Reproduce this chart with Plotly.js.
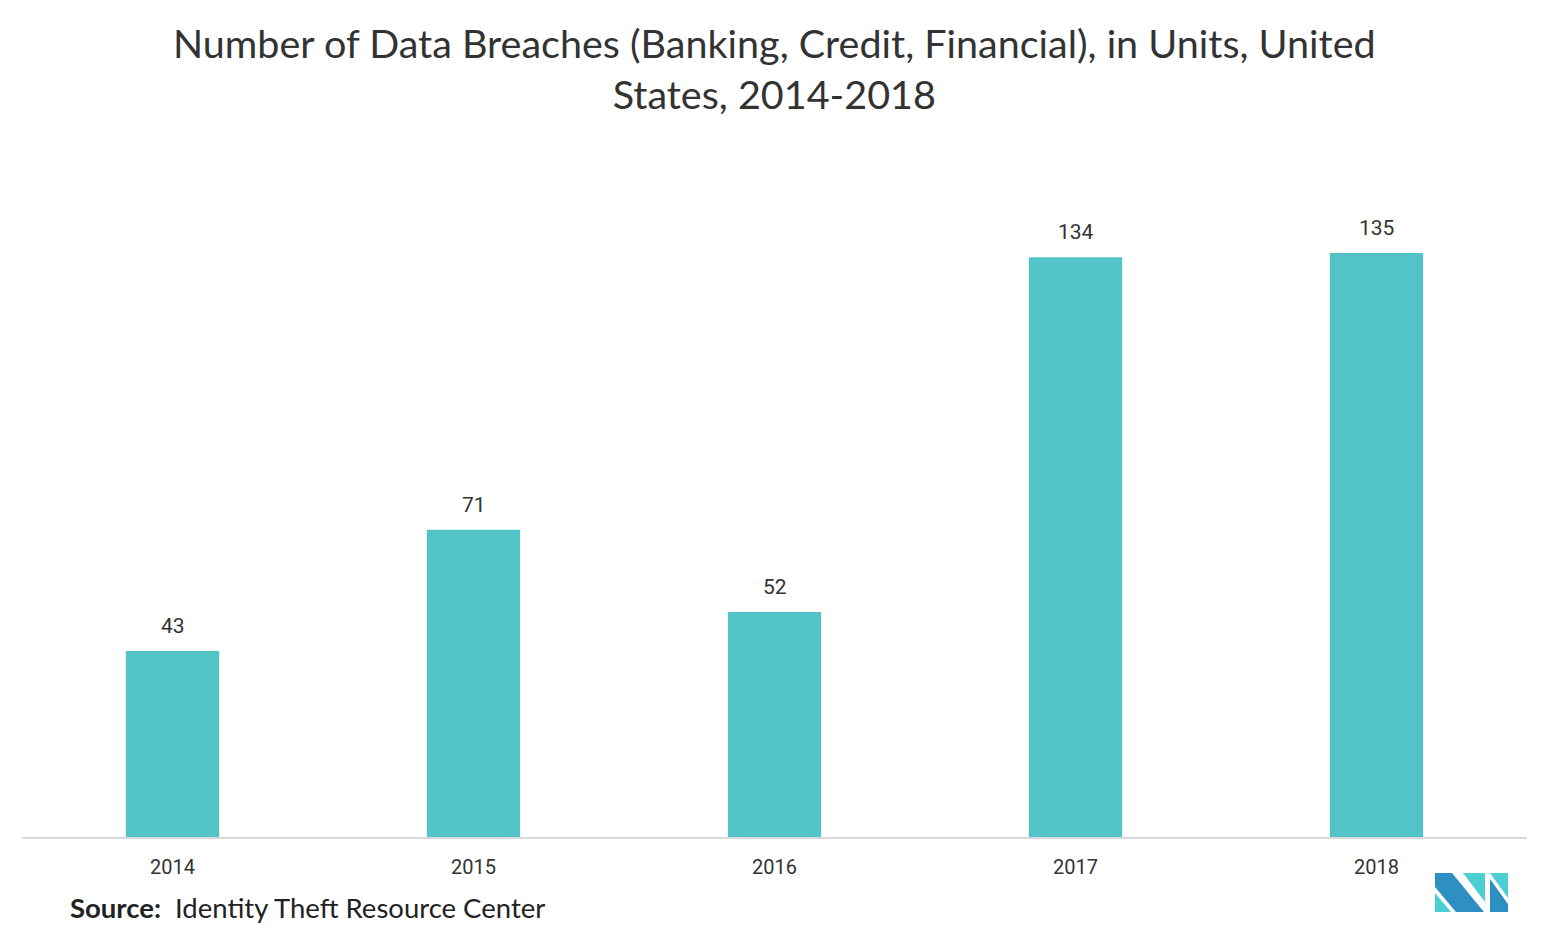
<!DOCTYPE html>
<html><head><meta charset="utf-8">
<script src="https://cdn.plot.ly/plotly-3.0.1.min.js"></script>
<style>html,body{margin:0;padding:0;background:#fff;}#chart{width:1550px;height:942px;}</style>
</head><body><div id="chart"></div>
<script>
const years = ['2014','2015','2016','2017','2018'];
const breaches = [43, 71, 52, 134, 135];

const W = 1550, H = 942;
const mL = 22, mR = 23, mT = 150, mB = 105;
const pw = W - mL - mR, ph = H - mT - mB;
function px(x){ return (x - mL) / pw; }
function py(y){ return (H - mB - y) / ph; }
function path(pts){ return 'M' + pts.map(p => px(p[0]) + ',' + py(p[1])).join(' L') + ' Z'; }

const dark = '#2e8fc2', teal = '#4ccfd2';
const logo = [
  {pts:[[1435,873],[1452,873],[1484,912],[1456,912],[1435,887]], c:dark},
  {pts:[[1435,893],[1451,912],[1435,912]], c:teal},
  {pts:[[1463,873],[1485,873],[1485,902]], c:teal},
  {pts:[[1490,873],[1508,873],[1508,898]], c:teal},
  {pts:[[1490,879],[1508,904],[1508,912],[1490,912]], c:dark}
].map(s => ({type:'path', xref:'paper', yref:'paper', path:path(s.pts), fillcolor:s.c, line:{width:0}, layer:'above'}));

const trace = {
  type:'bar', x: years, y: breaches,
  marker:{color:'#52c4c7'},
  hoverinfo:'none'
};

const valueLabels = years.map((yr, i) => ({
  x: i, y: breaches[i], xref:'x', yref:'y', yanchor:'bottom', yshift:11, showarrow:false,
  text: String(breaches[i]), font:{family:'Roboto, sans-serif', size:21, color:'#333'}
}));

const layout = {
  width: W, height: H,
  margin:{l:mL, r:mR, t:mT, b:mB},
  paper_bgcolor:'#fff', plot_bgcolor:'#fff',
  bargap: 0.69,
  xaxis:{type:'category', categoryorder:'array', categoryarray: years, range:[-0.5, years.length - 0.5],
    showgrid:false, zeroline:false, showline:true, linecolor:'#d9d9d9', linewidth:2,
    ticks:'', tickfont:{family:'Roboto, sans-serif', size:20, color:'#333'}, ticklabelstandoff:11},
  yaxis:{range:[0, ph/4.326], visible:false, showgrid:false, zeroline:false},
  showlegend:false,
  shapes: logo,
  annotations: valueLabels.concat([
    {xref:'paper', yref:'paper', x:0.5, y:py(68), xanchor:'center', yanchor:'middle', showarrow:false, align:'center',
     text:'Number of Data Breaches (Banking, Credit, Financial), in Units, United<br>States, 2014-2018',
     font:{family:'Lato, sans-serif', size:39.5, color:'#333'}},
    {xref:'paper', yref:'paper', x:px(68), y:py(907), xanchor:'left', yanchor:'middle', showarrow:false,
     text:'<b>Source:</b>  Identity Theft Resource Center', font:{family:'Lato, sans-serif', size:27.5, color:'#222'}}
  ])
};
Plotly.newPlot('chart', [trace], layout, {displayModeBar:false, staticPlot:true});
</script></body></html>
